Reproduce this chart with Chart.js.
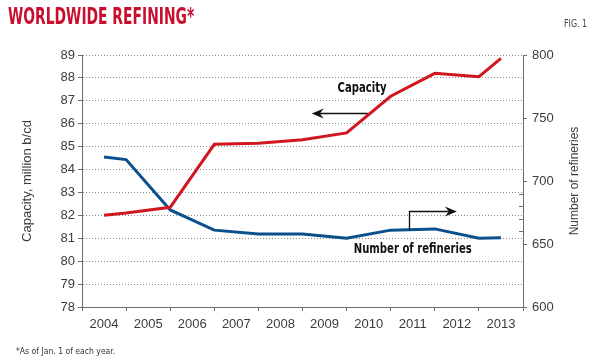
<!DOCTYPE html>
<html>
<head>
<meta charset="utf-8">
<script src="https://cdn.jsdelivr.net/npm/chart.js@4.4.0/dist/chart.umd.min.js"></script>
<style>
  html, body { margin: 0; padding: 0; background: #fff; }
  #wrap { position: relative; width: 600px; height: 361px; overflow: hidden; }
  #grafico { position: absolute; left: 0; top: 0; }
  .estreita { font-family: "Liberation Sans Narrow", "DejaVu Sans Condensed", sans-serif; white-space: nowrap; transform-origin: left top; }
  #titulo { position: absolute; left: 8px; top: 3px; font-weight: bold; font-size: 23px; color: #c8102e; transform: scaleX(0.67); }
  #fig { position: absolute; left: 564px; top: 17px; font-size: 11px; color: #444; transform: scaleX(0.8); }
  #nota { position: absolute; left: 16px; top: 346px; font-size: 9px; color: #333; transform: scaleX(0.95); }
</style>
</head>
<body>
<div id="wrap">
  <canvas id="grafico" width="600" height="361"></canvas>
  <div id="titulo" class="estreita">WORLDWIDE REFINING*</div>
  <div id="fig" class="estreita">FIG. 1</div>
  <div id="nota" class="estreita">*As of Jan. 1 of each year.</div>
</div>
<script>
// Dados
const anos = ['2004', '2005', '2006', '2007', '2008', '2009', '2010', '2011', '2012', '2013'];
const datasPontos = [2004.5, 2005, 2006, 2007, 2008, 2009, 2010, 2011, 2012, 2013, 2013.5];
const capacidade = [82.0, 82.1, 82.35, 85.1, 85.15, 85.3, 85.6, 87.2, 88.2, 88.05, 88.85];
const refinarias = [719, 717, 677, 661, 658, 658, 654.5, 661, 662, 654.5, 655];
const ticksCapacidade = [78, 89, 1];
const ticksRefinarias = [600, 800, 50];
const ticksMenores = [660, 670, 680, 690];

const fonteEixo = { family: 'Liberation Sans, Arial, sans-serif', size: 13 };
const corEixo = '#6e6e6e';

// Setas, rótulos das séries e título do eixo direito
const anotacoes = {
    id: 'anotacoes',
    afterDatasetsDraw(chart) {
        const { ctx, scales: { x, y, y1 } } = chart;
        ctx.save();

        // traços menores no eixo direito
        ctx.strokeStyle = corEixo;
        ctx.lineWidth = 1;
        ticksMenores.forEach(v => {
            const py = Math.round(y1.getPixelForValue(v)) + 0.5;
            ctx.beginPath();
            ctx.moveTo(y1.left - 4, py);
            ctx.lineTo(y1.left, py);
            ctx.stroke();
        });

        // título do eixo direito (lido de baixo para cima)
        ctx.save();
        ctx.translate(575, (y1.top + y1.bottom) / 2);
        ctx.rotate(-Math.PI / 2);
        ctx.fillStyle = '#3c3c3c';
        ctx.font = '12px "Liberation Sans", Arial, sans-serif';
        ctx.textAlign = 'center';
        ctx.textBaseline = 'middle';
        ctx.fillText('Number of refineries', 0, 0);
        ctx.restore();

        ctx.fillStyle = '#111';
        ctx.strokeStyle = '#111';

        function rotulo(txt, px, py) {
            ctx.save();
            ctx.translate(px, py);
            ctx.scale(0.8, 1);
            ctx.font = 'bold 14px "Liberation Sans Narrow", "DejaVu Sans Condensed", sans-serif';
            ctx.textAlign = 'center';
            ctx.textBaseline = 'middle';
            ctx.fillText(txt, 0, 0);
            ctx.restore();
        }
        rotulo('Capacity', x.getPixelForValue(2010.35), y.getPixelForValue(87.56));
        rotulo('Number of refineries', x.getPixelForValue(2011.5), y1.getPixelForValue(646));

        function ponta(px, py, dir) {
            ctx.beginPath();
            ctx.moveTo(px, py);
            ctx.lineTo(px - dir * 12, py - 5);
            ctx.lineTo(px - dir * 8, py);
            ctx.lineTo(px - dir * 12, py + 5);
            ctx.closePath();
            ctx.fill();
        }

        // seta da capacidade (para a esquerda)
        const ay = Math.round(y.getPixelForValue(86.47)) + 0.5;
        const ax1 = x.getPixelForValue(2010.48);
        const ax2 = x.getPixelForValue(2009.21);
        ctx.lineWidth = 1.3;
        ctx.beginPath();
        ctx.moveTo(ax1, ay);
        ctx.lineTo(ax2 + 8, ay);
        ctx.stroke();
        ponta(ax2, ay, -1);

        // seta das refinarias (para a direita)
        const bx = Math.round(x.getPixelForValue(2011.41)) + 0.5;
        const by1 = y1.getPixelForValue(661);
        const by2 = Math.round(y1.getPixelForValue(676.2)) + 0.5;
        const bx2 = x.getPixelForValue(2012.5);
        ctx.beginPath();
        ctx.moveTo(bx, by1);
        ctx.lineTo(bx, by2);
        ctx.lineTo(bx2 - 8, by2);
        ctx.stroke();
        ponta(bx2, by2, 1);

        ctx.restore();
    }
};

const ctx = document.getElementById('grafico').getContext('2d');
new Chart(ctx, {
    type: 'line',
    data: {
        datasets: [{
            label: 'Capacity',
            data: datasPontos.map((d, i) => ({ x: d, y: capacidade[i] })),
            borderColor: '#d2161f',
            borderWidth: 3,
            pointRadius: 0,
            tension: 0,
            yAxisID: 'y'
        }, {
            label: 'Number of refineries',
            data: datasPontos.map((d, i) => ({ x: d, y: refinarias[i] })),
            borderColor: '#0b4f8d',
            borderWidth: 3,
            pointRadius: 0,
            tension: 0,
            yAxisID: 'y1'
        }]
    },
    options: {
        responsive: false,
        animation: false,
        layout: { padding: { top: 55, left: 0, right: 0, bottom: 0 } },
        plugins: { legend: { display: false }, tooltip: { enabled: false } },
        scales: {
            x: {
                type: 'linear',
                min: 2004,
                max: 2014,
                afterFit: s => { s.height = 54; },
                afterBuildTicks: s => {
                    const t = [];
                    for (let i = 0; i <= anos.length * 2; i++) t.push({ value: 2004 + i / 2 });
                    s.ticks = t;
                },
                ticks: {
                    autoSkip: false,
                    maxRotation: 0,
                    padding: 6,
                    color: '#3c3c3c',
                    font: fonteEixo,
                    callback: v => {
                        const i = Math.floor(v) - 2004;
                        return (v % 1 !== 0 && anos[i]) ? anos[i] : '';
                    }
                },
                grid: {
                    drawOnChartArea: false,
                    tickLength: 4,
                    tickColor: c => (c.tick && c.tick.value % 1 === 0) ? corEixo : 'rgba(0,0,0,0)'
                },
                border: { color: corEixo, width: 1 }
            },
            y: {
                position: 'left',
                min: ticksCapacidade[0],
                max: ticksCapacidade[1],
                afterFit: s => { s.width = 82; },
                ticks: { stepSize: ticksCapacidade[2], padding: 3, color: '#3c3c3c', font: fonteEixo },
                grid: { color: '#8a8a8a', tickColor: corEixo, tickLength: 4, tickBorderDash: [], lineWidth: 1 },
                border: { color: corEixo, width: 1, dash: [1, 2] },
                title: {
                    display: true,
                    text: 'Capacity, million b/cd',
                    color: '#3c3c3c',
                    font: { family: 'Liberation Sans, Arial, sans-serif', size: 13 },
                    padding: { top: 20, bottom: 0 }
                }
            },
            y1: {
                position: 'right',
                min: ticksRefinarias[0],
                max: ticksRefinarias[1],
                afterFit: s => { s.width = 77; },
                ticks: { stepSize: ticksRefinarias[2], padding: 5, color: '#3c3c3c', font: fonteEixo },
                grid: { drawOnChartArea: false, tickColor: corEixo, tickLength: 4 },
                border: { color: corEixo, width: 1 }
            }
        }
    },
    plugins: [anotacoes]
});
</script>
</body>
</html>
